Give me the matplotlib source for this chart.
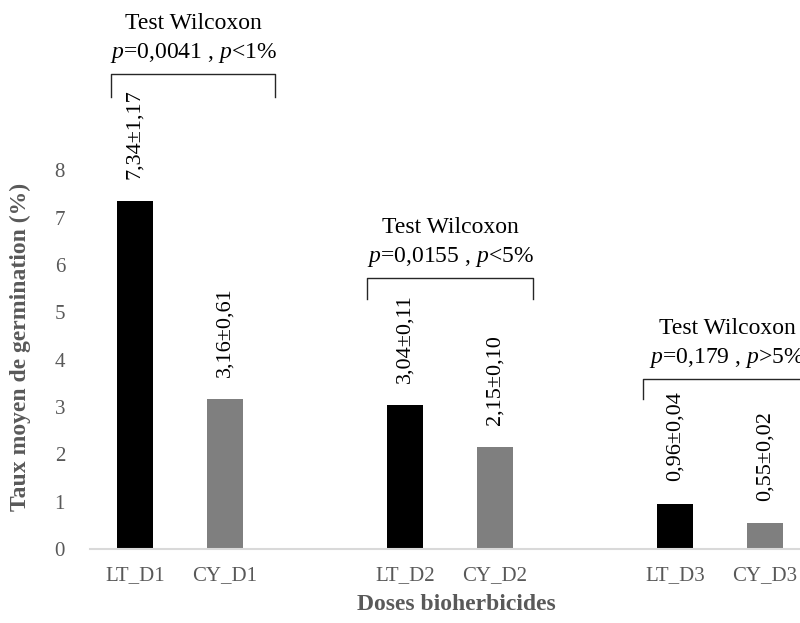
import matplotlib.pyplot as plt
import numpy as np

plt.rcParams['font.family'] = 'Liberation Serif'
plt.rcParams['mathtext.fontset'] = 'custom'
plt.rcParams['mathtext.rm'] = 'Liberation Serif'
plt.rcParams['mathtext.it'] = 'Liberation Serif:italic'

# data
labels = ['LT_D1', 'CY_D1', 'LT_D2', 'CY_D2', 'LT_D3', 'CY_D3']
means = [7.34, 3.16, 3.04, 2.15, 0.96, 0.55]
value_labels = ['7,34±1,17', '3,16±0,61', '3,04±0,11', '2,15±0,10', '0,96±0,04', '0,55±0,02']
colors = ['#000000', '#7f7f7f'] * 3
slots = [0, 1, 3, 4, 6, 7]  # empty slot between dose groups

tests = [r'$p$=0,0041 , $p$<1%', r'$p$=0,0155 , $p$<5%', r'$p$=0,179 , $p$>5%']

fig = plt.figure(figsize=(8, 6.23), dpi=100)
px = 47.35  # pixels per y unit
ax = fig.add_axes([90 / 800, 74 / 623, 720 / 800, 549 / 623])

ax.bar(slots, means, width=0.4, color=colors)
ax.set_xlim(-0.5, 7.5)
ax.set_ylim(0, 549 / px)
ax.set_yticks(range(9))
ax.set_xticks(slots)
ax.set_xticklabels(labels)
ax.tick_params(length=0, labelsize=15, colors='#595959', pad=12)
ax.tick_params(axis='y', pad=18)
for s in ['top', 'right', 'left']:
    ax.spines[s].set_visible(False)
ax.spines['bottom'].set_color('#d9d9d9')
ax.spines['bottom'].set_linewidth(1.5)

for x, m, t in zip(slots, means, value_labels):
    ax.annotate(t, (x, m), xytext=(0, 16), textcoords='offset points',
                rotation=90, ha='center', va='bottom', fontsize=16)

# brackets: (left, right, top y, drop), text centre x
brackets = [
    (slots[0] - 0.267, slots[1] + 0.556, 10.03, 0.48, slots[0] + 0.644),
    (slots[2] - 0.42, slots[3] + 0.42, 5.72, 0.44, slots[2] + 0.5),
    (slots[4] - 0.356, slots[5] + 1.0, 3.59, 0.42, slots[4] + 0.578),
]
for (l, r, top, d, cx), txt in zip(brackets, tests):
    ax.plot([l, l, r, r], [top - d, top, top, top - d], color='#262626',
            lw=1.0, clip_on=False, solid_joinstyle='round')
    ax.text(cx, top + 0.45, txt, ha='center', va='center', fontsize=17)
    ax.text(cx, top + 1.06, 'Test Wilcoxon', ha='center', va='center', fontsize=17)

fig.text(456 / 800, 1 - 604 / 623, 'Doses bioherbicides', ha='center', va='center',
         fontsize=17, fontweight='bold', color='#595959')
fig.text(20 / 800, 1 - 347 / 623, 'Taux moyen de germination (%)', ha='center',
         va='center', rotation=90, fontsize=17, fontweight='bold', color='#595959')

fig.savefig('out.png', dpi=100)
